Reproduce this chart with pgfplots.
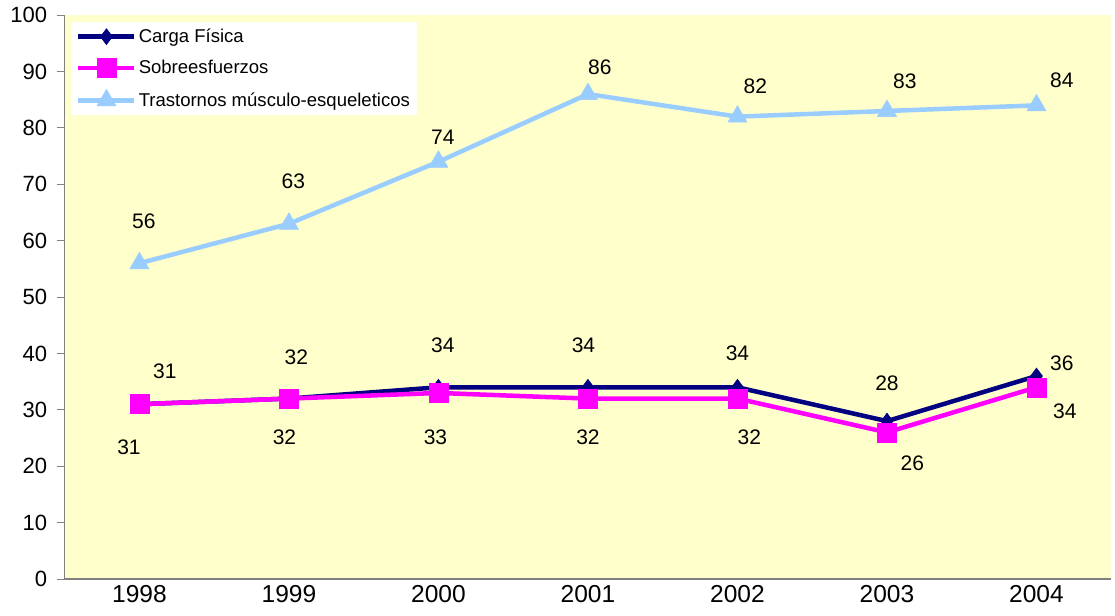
\documentclass[border=0pt]{standalone}
\usepackage{fontspec}
\setmainfont{Liberation Sans}
\usepackage{pgfplots}
\pgfplotsset{compat=1.18}
\definecolor{cargac}{HTML}{000080}
\definecolor{sobrec}{HTML}{FF00FF}
\definecolor{trastc}{HTML}{99CCFF}
\definecolor{bgc}{HTML}{FFFFCC}
\begin{document}
\begin{tikzpicture}
\begin{axis}[
    scale only axis,
    width=1045pt, height=563pt,
    xmin=-0.5, xmax=6.5,
    ymin=0, ymax=100,
    ytick={0,10,...,100},
    xtick={0,...,6},
    xticklabels={1998,\raisebox{7pt}{1999},2000,2001,2002,2003,2004},
    axis x line*=bottom,
    axis y line*=left,
    axis line style={gray, line width=1.5pt, -},
    axis background/.style={fill=bgc},
    tick style={gray, line width=1pt},
    major tick length=8pt,
    x tick style={draw=none},
    ytick align=outside,
    yticklabel style={font=\fontsize{22}{26}\selectfont, xshift=-6pt},
    xticklabel style={font=\fontsize{24.5}{28}\selectfont, yshift=-3pt},
    /pgf/number format/assume math mode=true,
    legend style={at={(0.006,0.988)}, anchor=north west, fill=white, draw=none,
        font=\fontsize{18.5}{22}\selectfont, row sep=12pt, inner sep=5pt},
    legend cell align=left,
    legend image code/.code={\draw[mark repeat=2,mark phase=2] plot coordinates {(0pt,0pt)(28pt,0pt)(56pt,0pt)};},
]
\addplot[cargac, line width=4.5pt, mark=diamond*, mark size=8pt, mark options={solid, line width=0.5pt}]
    coordinates {(0,31) (1,32) (2,34) (3,34) (4,34) (5,28) (6,36)};
\addlegendentry{Carga Física}
\addplot[sobrec, line width=4.5pt, mark=square*, mark size=9.5pt, mark options={solid, line width=0.5pt}]
    coordinates {(0,31) (1,32) (2,33) (3,32) (4,32) (5,26) (6,34)};
\addlegendentry{Sobreesfuerzos}
\addplot[trastc, line width=4.5pt, mark=triangle*, mark size=11pt, mark options={solid, line width=0.5pt}]
    coordinates {(0,56) (1,63) (2,74) (3,86) (4,82) (5,83) (6,84)};
\addlegendentry{Trastornos músculo-esqueleticos}
% data labels
\begingroup
\def\lab#1#2#3{\node[font=\fontsize{21}{24}\selectfont] at (axis cs:#1,#2) {#3};}
\lab{0.17}{36.8}{31}\lab{1.05}{39.3}{32}\lab{2.03}{41.4}{34}\lab{2.97}{41.4}{34}
\lab{4.0}{40.0}{34}\lab{5.0}{34.8}{28}\lab{6.17}{38.2}{36}
\lab{-0.07}{23.4}{31}\lab{0.97}{25.2}{32}\lab{1.98}{25.2}{33}\lab{3.0}{25.2}{32}
\lab{4.08}{25.2}{32}\lab{5.17}{20.6}{26}\lab{6.19}{29.8}{34}
\lab{0.03}{63.4}{56}\lab{1.03}{70.5}{63}\lab{2.03}{78.3}{74}\lab{3.08}{90.8}{86}
\lab{4.12}{87.4}{82}\lab{5.12}{88.3}{83}\lab{6.17}{88.5}{84}
\endgroup
\end{axis}
% page margins as in the reference
\path ([shift={(-7pt,4pt)}]current bounding box.north west)
      ([shift={(3pt,-2pt)}]current bounding box.south east);
\end{tikzpicture}
\end{document}
